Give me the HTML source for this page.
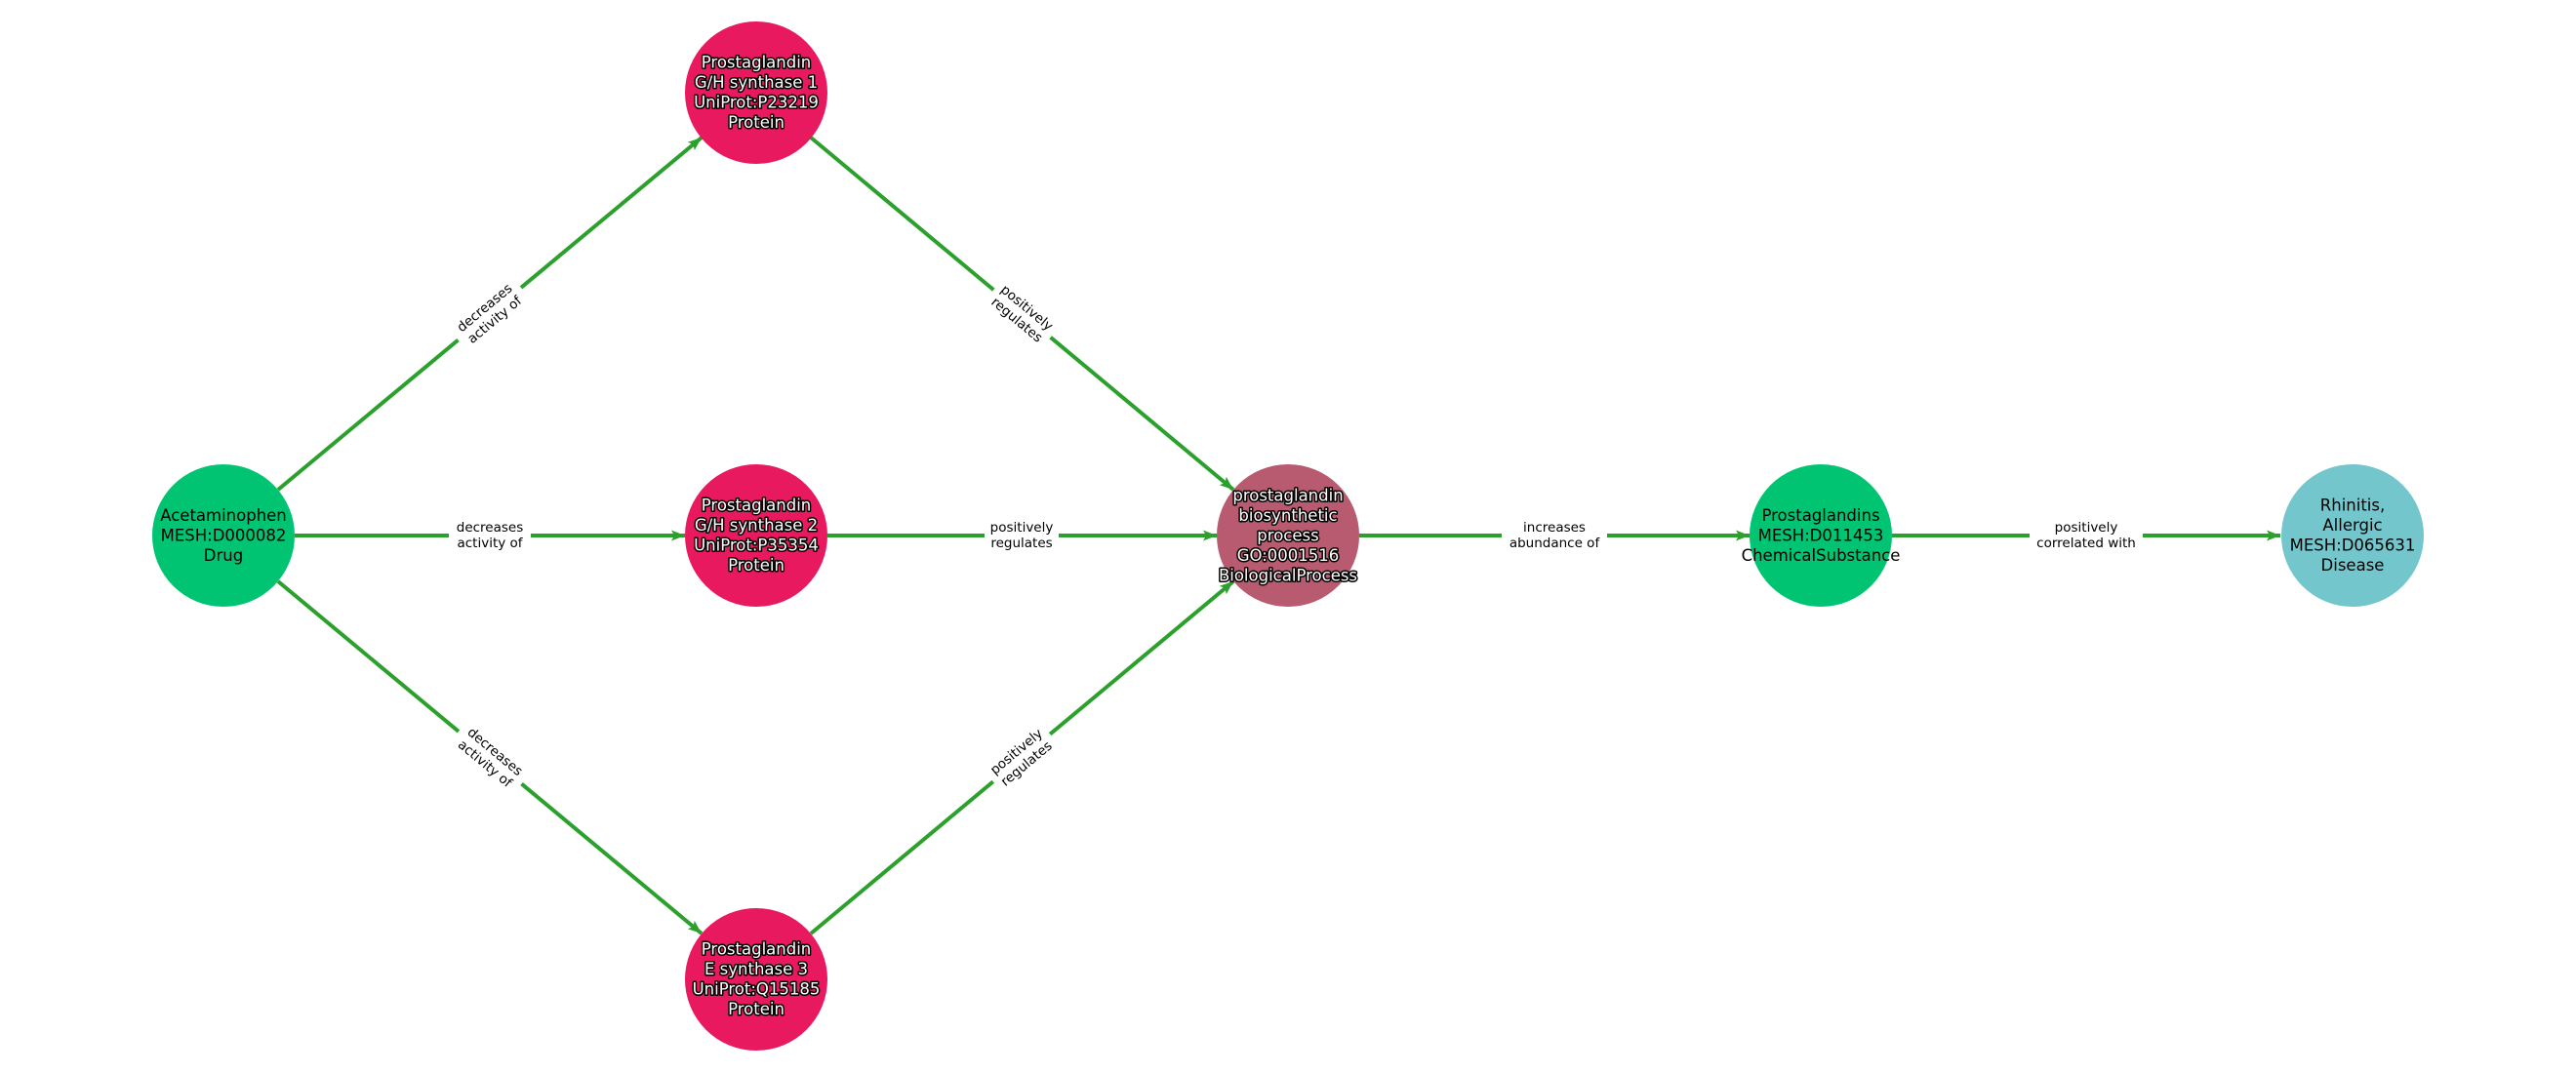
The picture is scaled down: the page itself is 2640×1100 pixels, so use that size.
<!DOCTYPE html>
<html><head><meta charset="utf-8"><style>
html,body{margin:0;padding:0;background:#fff;}
svg{display:block;}
.n{font-family:"DejaVu Sans","Liberation Sans",sans-serif;font-size:16.5px;text-anchor:middle;dominant-baseline:central;}
.w{fill:#fff;stroke:#000;stroke-width:3px;paint-order:stroke;stroke-linejoin:round;}
.b{fill:#000;}
.e{font-family:"DejaVu Sans","Liberation Sans",sans-serif;font-size:13.5px;text-anchor:middle;dominant-baseline:central;fill:#000;}
line{stroke:#2ca02c;stroke-width:4;}
</style></head><body>
<svg width="2640" height="1100" viewBox="0 0 2640 1100" xmlns="http://www.w3.org/2000/svg">
<defs>
<marker id="a" markerUnits="userSpaceOnUse" markerWidth="16" markerHeight="12" refX="14" refY="6" orient="auto">
<path d="M0,0.5 L14,6 L0,11.5 L3,6 z" fill="#2ca02c"/>
</marker>
</defs>
<line x1="285" y1="502" x2="719" y2="141" marker-end="url(#a)"/>
<line x1="302" y1="549" x2="702" y2="549" marker-end="url(#a)"/>
<line x1="285" y1="596" x2="719" y2="957" marker-end="url(#a)"/>
<line x1="831" y1="141" x2="1264" y2="502" marker-end="url(#a)"/>
<line x1="848" y1="549" x2="1247" y2="549" marker-end="url(#a)"/>
<line x1="831" y1="957" x2="1264" y2="596" marker-end="url(#a)"/>
<line x1="1393" y1="549" x2="1793" y2="549" marker-end="url(#a)"/>
<line x1="1939" y1="549" x2="2337" y2="549" marker-end="url(#a)"/>

<circle cx="229" cy="549" r="73" fill="#00c472"/>
<circle cx="775" cy="95" r="73" fill="#e8195f"/>
<circle cx="775" cy="549" r="73" fill="#e8195f"/>
<circle cx="775" cy="1004" r="73" fill="#e8195f"/>
<circle cx="1320" cy="549" r="73" fill="#b85a70"/>
<circle cx="1866" cy="549" r="73" fill="#00c472"/>
<circle cx="2411" cy="549" r="73" fill="#72c6cc"/>

<!-- edge labels -->
<g transform="translate(502,322) rotate(-39.8)"><rect x="-42" y="-19" width="84" height="38" fill="#fff"/><text class="e" y="-8">decreases</text><text class="e" y="8">activity of</text></g>
<g transform="translate(502,549)"><rect x="-42" y="-19" width="84" height="38" fill="#fff"/><text class="e" y="-8">decreases</text><text class="e" y="8">activity of</text></g>
<g transform="translate(502,777) rotate(39.8)"><rect x="-42" y="-19" width="84" height="38" fill="#fff"/><text class="e" y="-8">decreases</text><text class="e" y="8">activity of</text></g>
<g transform="translate(1047,322) rotate(39.8)"><rect x="-38" y="-19" width="76" height="38" fill="#fff"/><text class="e" y="-8">positively</text><text class="e" y="8">regulates</text></g>
<g transform="translate(1047,549)"><rect x="-38" y="-19" width="76" height="38" fill="#fff"/><text class="e" y="-8">positively</text><text class="e" y="8">regulates</text></g>
<g transform="translate(1047,777) rotate(-39.8)"><rect x="-38" y="-19" width="76" height="38" fill="#fff"/><text class="e" y="-8">positively</text><text class="e" y="8">regulates</text></g>
<g transform="translate(1593,549)"><rect x="-54" y="-19" width="108" height="38" fill="#fff"/><text class="e" y="-8">increases</text><text class="e" y="8">abundance of</text></g>
<g transform="translate(2138,549)"><rect x="-58" y="-19" width="116" height="38" fill="#fff"/><text class="e" y="-8">positively</text><text class="e" y="8">correlated with</text></g>

<!-- node labels -->
<text class="n b" x="229" y="528.5">Acetaminophen</text>
<text class="n b" x="229" y="549">MESH:D000082</text>
<text class="n b" x="229" y="569.5">Drug</text>

<text class="n w" x="775" y="64">Prostaglandin</text>
<text class="n w" x="775" y="84.5">G/H synthase 1</text>
<text class="n w" x="775" y="105">UniProt:P23219</text>
<text class="n w" x="775" y="125.5">Protein</text>

<text class="n w" x="775" y="518">Prostaglandin</text>
<text class="n w" x="775" y="538.5">G/H synthase 2</text>
<text class="n w" x="775" y="559">UniProt:P35354</text>
<text class="n w" x="775" y="579.5">Protein</text>

<text class="n w" x="775" y="973">Prostaglandin</text>
<text class="n w" x="775" y="993.5">E synthase 3</text>
<text class="n w" x="775" y="1014">UniProt:Q15185</text>
<text class="n w" x="775" y="1034.5">Protein</text>

<text class="n w" x="1320" y="508">prostaglandin</text>
<text class="n w" x="1320" y="528.5">biosynthetic</text>
<text class="n w" x="1320" y="549">process</text>
<text class="n w" x="1320" y="569.5">GO:0001516</text>
<text class="n w" x="1320" y="590">BiologicalProcess</text>

<text class="n b" x="1866" y="528.5">Prostaglandins</text>
<text class="n b" x="1866" y="549">MESH:D011453</text>
<text class="n b" x="1866" y="569.5">ChemicalSubstance</text>

<text class="n b" x="2411" y="518">Rhinitis,</text>
<text class="n b" x="2411" y="538.5">Allergic</text>
<text class="n b" x="2411" y="559">MESH:D065631</text>
<text class="n b" x="2411" y="579.5">Disease</text>
</svg>
</body></html>
